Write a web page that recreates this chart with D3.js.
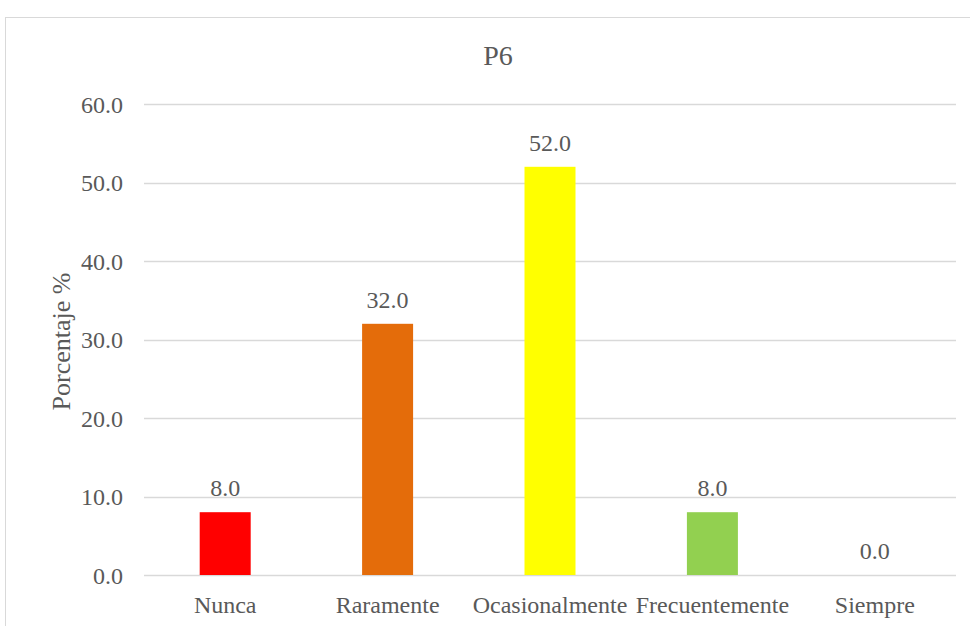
<!DOCTYPE html>
<html>
<head>
<meta charset="utf-8">
<script src="https://cdn.jsdelivr.net/npm/d3@7"></script>
<style>
  html, body { margin: 0; padding: 0; background: #fff; }
  svg { display: block; }
  text { font-family: "Liberation Serif", "Times New Roman", serif; fill: #595959; }
</style>
</head>
<body>
<svg id="chart" width="970" height="626"></svg>
<script>
const categories = ["Nunca", "Raramente", "Ocasionalmente", "Frecuentemente", "Siempre"];
const values = [8.0, 32.0, 52.0, 8.0, 0.0];
const colors = ["#FF0000", "#E46C0A", "#FFFF00", "#92D050", "#4472C4"];
const yTicks = [0, 10, 20, 30, 40, 50, 60];
const title = "P6";
const yTitle = "Porcentaje %";

const svg = d3.select("#chart");
const FONT = '"Liberation Serif", "Times New Roman", serif';

// outer frame
svg.append("rect")
  .attr("x", 5.5).attr("y", 17.5)
  .attr("width", 985).attr("height", 640)
  .attr("fill", "#fff").attr("stroke", "#D9D9D9").attr("stroke-width", 1);

const plot = { left: 144, right: 956, top: 104, bottom: 575 };

const x = d3.scaleBand().domain(categories)
  .range([plot.left, plot.right]).paddingInner(0.686).paddingOuter(0.343);
const y = d3.scaleLinear().domain([0, 60]).range([plot.bottom, plot.top]);

// gridlines
svg.append("g").selectAll("line").data(yTicks).join("line")
  .attr("x1", plot.left).attr("x2", plot.right)
  .attr("y1", d => Math.round(y(d)) + 0.5).attr("y2", d => Math.round(y(d)) + 0.5)
  .attr("stroke", "#D9D9D9").attr("stroke-width", 1.5);

// y axis labels
const yAxis = d3.axisLeft(y).tickValues(yTicks).tickFormat(d3.format(".1f")).tickSize(0).tickPadding(21);
const gy = svg.append("g").attr("transform", `translate(${plot.left},0)`).call(yAxis);
gy.select(".domain").remove();
gy.attr("font-family", null).attr("font-size", null);
gy.selectAll("text").style("font-family", FONT).style("font-size", "24px").style("fill", "#595959").attr("dy", "0.34em");

// bars
svg.append("g").selectAll("rect").data(values).join("rect")
  .attr("x", (d, i) => x(categories[i]))
  .attr("width", x.bandwidth())
  .attr("y", d => y(d))
  .attr("height", d => y(0) - y(d))
  .attr("fill", (d, i) => colors[i]);

// data labels
svg.append("g").selectAll("text").data(values).join("text")
  .attr("x", (d, i) => x(categories[i]) + x.bandwidth() / 2)
  .attr("y", d => y(d) - 16)
  .attr("text-anchor", "middle")
  .style("font-family", FONT)
  .style("font-size", "24px")
  .text(d => d3.format(".1f")(d));

// x axis labels
const xAxis = d3.axisBottom(x).tickSize(0).tickPadding(0);
const gx = svg.append("g").attr("transform", `translate(0,${plot.bottom})`).call(xAxis);
gx.select(".domain").remove();
gx.attr("font-family", null).attr("font-size", null);
gx.selectAll("text").style("font-family", FONT).style("font-size", "24px").style("fill", "#595959")
  .attr("y", 38).attr("dy", null);

// title
svg.append("text").attr("x", 498).attr("y", 65)
  .attr("text-anchor", "middle").style("font-family", FONT).style("font-size", "28px").text(title);

// y title
svg.append("text")
  .attr("transform", `translate(70,${(plot.top + plot.bottom) / 2 + 2}) rotate(-90)`)
  .attr("text-anchor", "middle").style("font-family", FONT).style("font-size", "26px").text(yTitle);
</script>
</body>
</html>
